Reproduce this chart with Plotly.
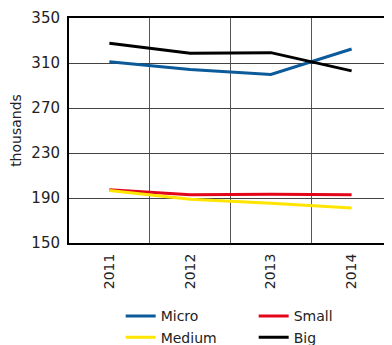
import plotly.graph_objects as go

# Data
years = ['2011', '2012', '2013', '2014']
micro = [311.2, 304.2, 299.8, 322.4]
small = [197.4, 192.8, 193.3, 192.8]
medium = [196.6, 188.8, 185.3, 181.2]
big = [327.5, 318.6, 319.2, 303.0]

COLORS = {
    'Micro': '#0b5a9a',
    'Small': '#e3061a',
    'Medium': '#ffe500',
    'Big': '#000000',
}

FONT = '"DejaVu Sans", Verdana, sans-serif'

fig = go.Figure()
for name, vals in [('Micro', micro), ('Small', small), ('Medium', medium), ('Big', big)]:
    fig.add_trace(go.Scatter(
        x=years, y=vals, name=name, mode='lines',
        line=dict(color=COLORS[name], width=3),
    ))

# page body has an 8px margin, so the figure is 8px smaller than the window
fig.update_layout(
    width=384, height=337,
    margin=dict(l=61, r=0, t=10, b=102, autoexpand=False),
    paper_bgcolor='white', plot_bgcolor='white',
    font=dict(family=FONT, color='#222', size=14),
    showlegend=True,
    legend=dict(
        orientation='h', x=0.16, y=-0.255, xanchor='left', yanchor='top',
        entrywidth=88, entrywidthmode='pixels',
        font=dict(size=14), tracegroupgap=0, itemwidth=30,
    ),
    xaxis=dict(
        type='category', tickson='boundaries', automargin=False,
        range=[-0.5, 3.5],
        showgrid=True, gridcolor='#555', gridwidth=1,
        showline=True, linecolor='#000', linewidth=2, mirror=True,
        ticks='', tickangle=-90, tickfont=dict(size=14),
        ticklabelstandoff=3,
    ),
    yaxis=dict(
        range=[150, 350], tickvals=[150, 190, 230, 270, 310, 350],
        automargin=False,
        showgrid=True, gridcolor='#444', gridwidth=1,
        showline=True, linecolor='#000', linewidth=2,
        ticks='', tickfont=dict(size=15), ticklabelstandoff=4,
        zeroline=False,
        title=dict(text='thousands', font=dict(size=14), standoff=7),
    ),
)

fig.write_html('out.html')
